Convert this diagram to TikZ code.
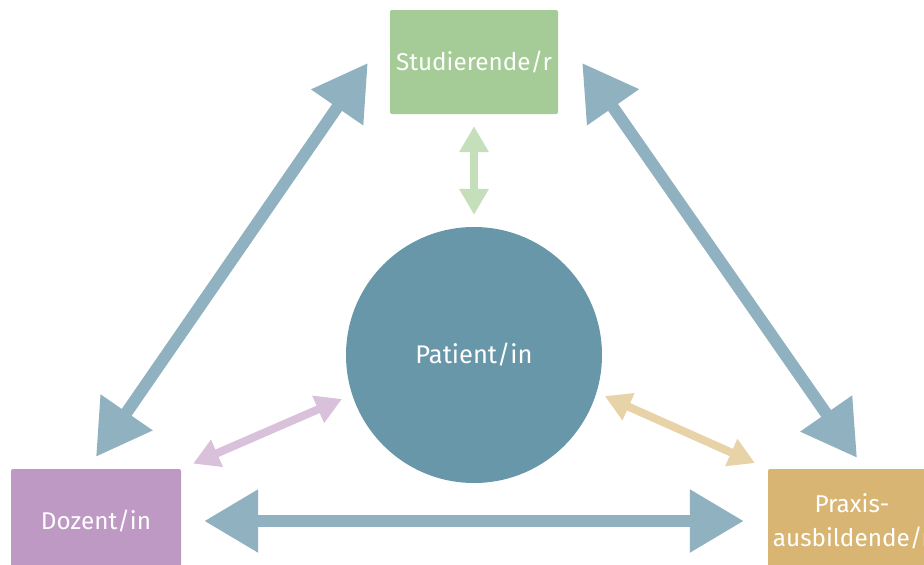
\documentclass[tikz,border=0pt]{standalone}
\usepackage{fontspec}
\setmainfont{Fira Sans}
\usetikzlibrary{arrows.meta,calc}

\definecolor{studgreen}{HTML}{A5CB96}
\definecolor{dozpink}{HTML}{BD99C3}
\definecolor{praxtan}{HTML}{D8B572}
\definecolor{patblue}{HTML}{6897A9}
\definecolor{arrowblue}{HTML}{90B1BF}
\definecolor{lightgreen}{HTML}{C5DFBB}
\definecolor{lightpink}{HTML}{D9C1DB}
\definecolor{lighttan}{HTML}{E8D3A8}

\begin{document}
\begin{tikzpicture}[x=1pt,y=-1pt,
        rolebox/.style={rectangle, rounded corners=2pt, minimum width=168pt, minimum height=104pt,
            inner sep=0pt, text=white, align=center, font=\fontsize{24.3}{34}\selectfont},
        bigarrow/.style={line width=12pt,
            {Triangle[length=54pt,width=60pt]}-{Triangle[length=54pt,width=60pt]}},
        smallarrow/.style={line width=8pt,
            {Triangle[length=26pt,width=28pt]}-{Triangle[length=26pt,width=28pt]}}]
        \clip (0,0) rectangle (924,565);
        \fill[white] (0,0) rectangle (924,565);

        % roles
        \node[rolebox, fill=studgreen] (stud) at (474,62) {Studierende/r};
        \node[rolebox, fill=dozpink, minimum width=170pt] (doz) at (96,521) {Dozent/in};
        \node[rolebox, fill=praxtan] (prax) at (852,521) {Praxis-\\ausbildende/r};

        % centre
        \node[circle, fill=patblue, minimum size=256pt, inner sep=0pt, text=white,
            font=\fontsize{25.5}{30}\selectfont] (pat) at (474,355) {Patient/in};

        % triangle of big arrows
        \draw[bigarrow, arrowblue] ($(doz.north)+(0,-12)$) -- ($(stud.west)+(-22,1)$);
        \draw[bigarrow, arrowblue] ($(stud.east)+(24,1)$) -- ($(prax.north)+(5,-11)$);
        \draw[bigarrow, arrowblue, shorten <=23pt, shorten >=24pt] (doz.east) -- (prax.west);

        % links to the patient
        \draw[smallarrow, lightgreen, shorten <=12pt, shorten >=12pt] (stud.south) -- (pat.north);
        \draw[smallarrow, lightpink, shorten <=13pt, shorten >=11pt] (doz.north east) -- (pat.198);
        \draw[smallarrow, lighttan, shorten <=9pt, shorten >=14pt] (pat.343) -- (prax.north west);
\end{tikzpicture}
\end{document}
